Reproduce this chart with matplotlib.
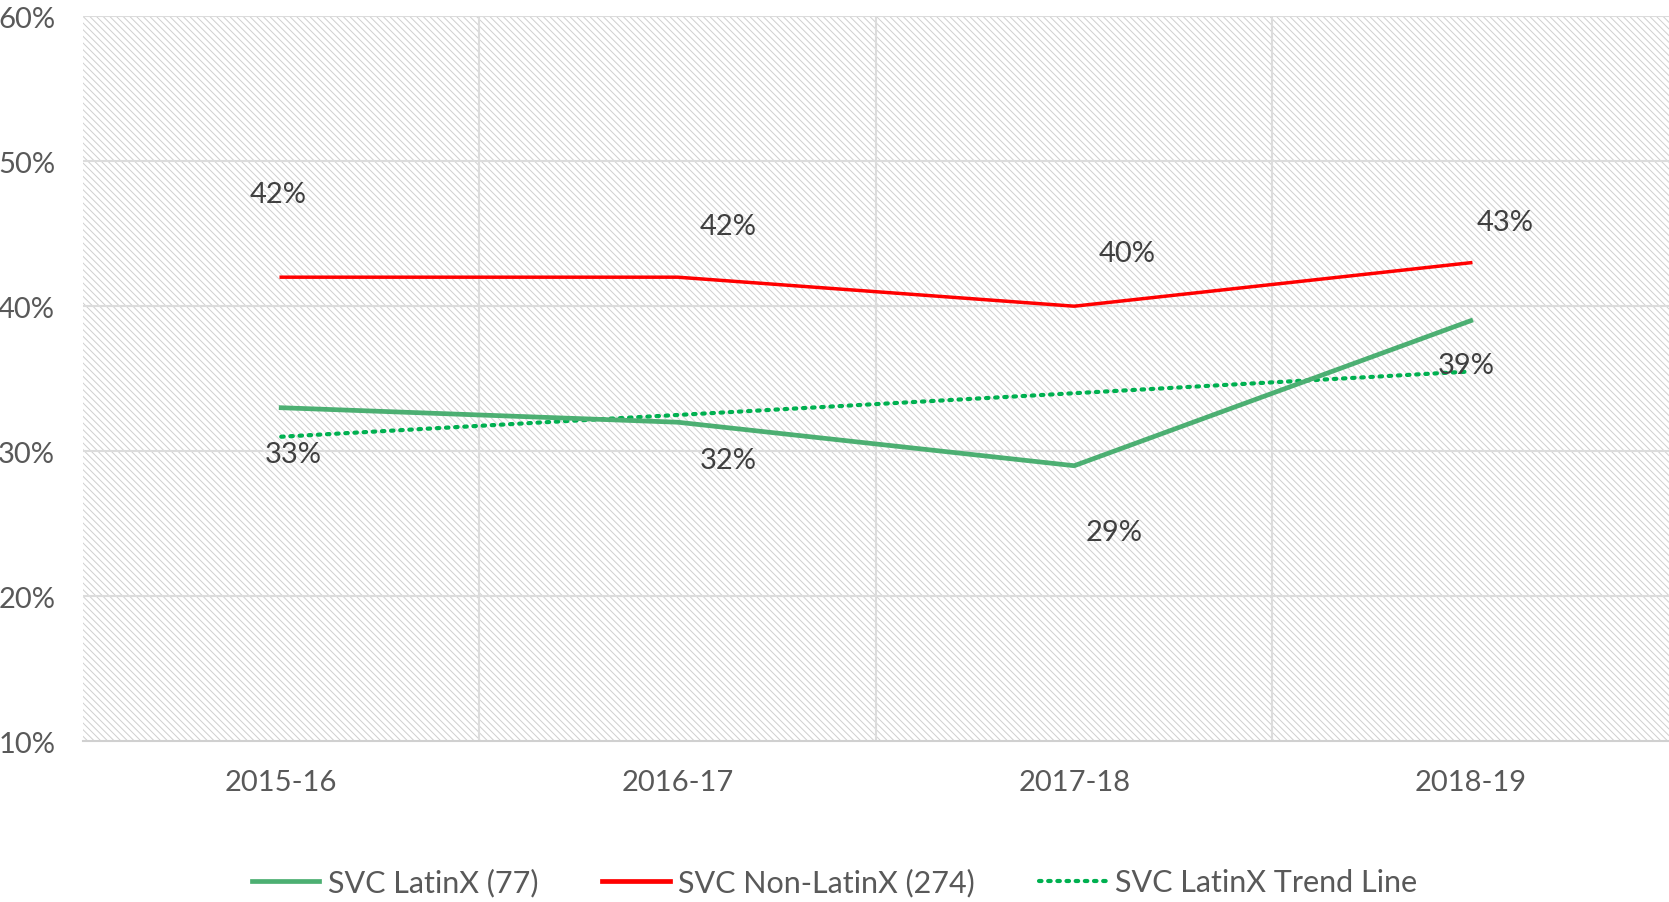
import matplotlib.pyplot as plt
from matplotlib.patches import Rectangle
from matplotlib.lines import Line2D

years = ['2015-16', '2016-17', '2017-18', '2018-19']
latinx = [33, 32, 29, 39]
non_latinx = [42, 42, 40, 43]
trend = [31, 32.5, 34, 35.5]
labels = ['SVC LatinX (77)', 'SVC Non-LatinX (274)', 'SVC LatinX Trend Line']

# label offsets (pixels, y up) relative to each point
latinx_off = [(12, -46), (51, -38), (40, -66), (-4, -44)]
non_latinx_off = [(-3, 83), (50, 51), (53, 53), (34, 41)]

plt.rcParams['font.family'] = ['Lato', 'DejaVu Sans']
plt.rcParams['hatch.linewidth'] = 0.7
plt.rcParams['hatch.color'] = '#cfcfcf'

fig = plt.figure(figsize=(16.69, 9.03), dpi=100)
ax = fig.add_axes([0.0497, 0.178, 0.9503, 0.803])

x = list(range(len(years)))
ax.add_patch(Rectangle((0, 0), 1, 1, transform=ax.transAxes, facecolor='white',
                       edgecolor='#cfcfcf', hatch='\\\\\\\\\\', linewidth=0, zorder=0))

for v in [20, 30, 40, 50, 60]:
    ax.axhline(v, color='#dcdcdc', lw=1.5, zorder=1)
for b in [0.5, 1.5, 2.5]:
    ax.axvline(b, color='#dcdcdc', lw=1.5, zorder=1)

ax.plot(x, trend, color='#00B050', lw=3, linestyle=(0, (0.6, 1.6)),
        dash_capstyle='round', zorder=3)
ax.plot(x, latinx, color='#4CAF72', lw=3.4, zorder=4)
ax.plot(x, non_latinx, color='#FF0000', lw=2.5, zorder=4)

for i in x:
    ax.annotate(f'{latinx[i]}%', (i, latinx[i]), xytext=latinx_off[i],
                textcoords='offset pixels', ha='center', va='center',
                fontsize=21, color='#404040', zorder=5)
    ax.annotate(f'{non_latinx[i]}%', (i, non_latinx[i]), xytext=non_latinx_off[i],
                textcoords='offset pixels', ha='center', va='center',
                fontsize=21, color='#404040', zorder=5)

ax.set_xlim(-0.5, 3.5)
ax.set_ylim(10, 60)
ax.set_xticks(x)
ax.set_xticklabels(years)
ax.set_yticks([10, 20, 30, 40, 50, 60])
ax.set_yticklabels([f'{v}%' for v in [10, 20, 30, 40, 50, 60]])
ax.tick_params(axis='both', length=0, labelsize=21, colors='#595959')
ax.tick_params(axis='x', pad=20)
ax.tick_params(axis='y', pad=20)
for s in ['top', 'right', 'left']:
    ax.spines[s].set_visible(False)
ax.spines['bottom'].set_color('#d0d0d0')
ax.spines['bottom'].set_linewidth(1.5)

handles = [Line2D([], [], color='#4CAF72', lw=3.4),
           Line2D([], [], color='#FF0000', lw=3.4),
           Line2D([], [], color='#00B050', lw=3, linestyle=(0, (0.6, 1.6)),
                  dash_capstyle='round')]
leg = fig.legend(handles, labels, loc='center', bbox_to_anchor=(0.5, 0.022),
                 ncol=3, frameon=False, fontsize=22, handlelength=2.2,
                 handletextpad=0.28, columnspacing=2.1)
for t in leg.get_texts():
    t.set_color('#595959')

fig.savefig('out.png', dpi=100)
